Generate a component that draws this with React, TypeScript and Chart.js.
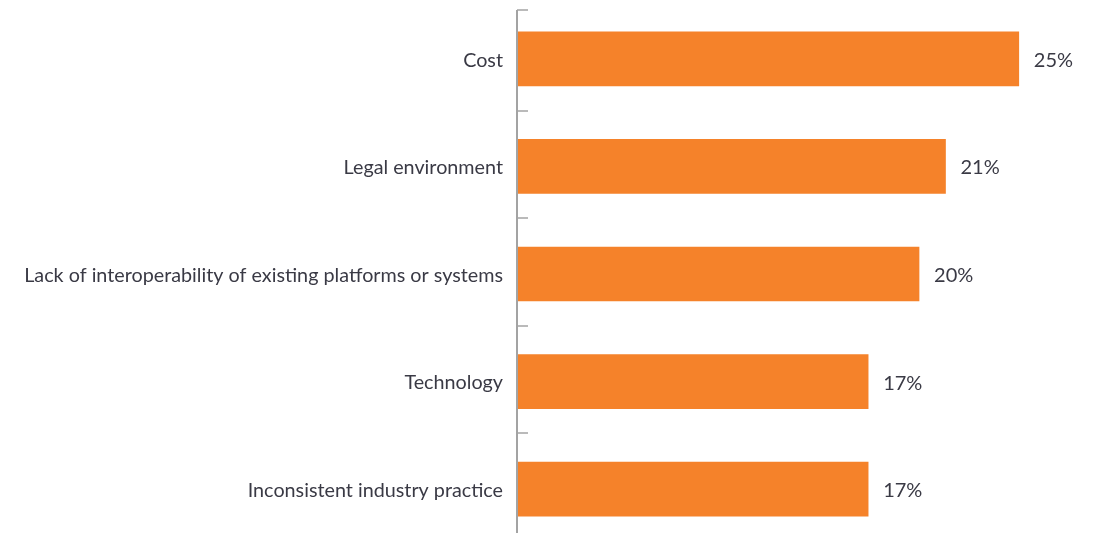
import React, { useEffect, useRef } from "react";
import { Chart, registerables } from "chart.js";

Chart.register(...registerables);

const categories = [
  "Cost",
  "Legal environment",
  "Lack of interoperability of existing platforms or systems",
  "Technology",
  "Inconsistent industry practice",
];
const values = [24.6, 21.0, 19.7, 17.2, 17.2];
const valueLabels = ["25%", "21%", "20%", "17%", "17%"];

const BAR_COLOR = "#F5822A";
const TEXT_COLOR = "#3a3a45";
const AXIS_COLOR = "#a3a3a3";
const CAT_FONT = "19.75px Lato";
const VAL_FONT = "20px Lato";

const annotate = {
  id: "annotate",
  afterDatasetsDraw(chart: any) {
    const { ctx, chartArea } = chart;
    const yScale = chart.scales.y;
    const meta = chart.getDatasetMeta(0);
    ctx.save();
    const ax = chartArea.left;
    ctx.strokeStyle = AXIS_COLOR;
    ctx.lineWidth = 2;
    ctx.beginPath();
    ctx.moveTo(ax - 1, 10);
    ctx.lineTo(ax - 1, chart.height);
    ctx.stroke();
    const tickYs: number[] = [10];
    for (let i = 0; i < categories.length - 1; i++) {
      const a = yScale.getPixelForValue(i);
      const b = yScale.getPixelForValue(i + 1);
      tickYs.push(Math.round((a + b) / 2 - 2));
    }
    ctx.lineWidth = 1.5;
    tickYs.forEach((ty) => {
      ctx.beginPath();
      ctx.moveTo(ax - 1, ty);
      ctx.lineTo(ax + 10, ty);
      ctx.stroke();
    });
    ctx.fillStyle = TEXT_COLOR;
    ctx.textBaseline = "middle";
    meta.data.forEach((bar: any, i: number) => {
      const cy = bar.y + 1.5;
      ctx.font = CAT_FONT;
      ctx.textAlign = "right";
      ctx.fillText(categories[i], ax - 15, cy);
      ctx.font = VAL_FONT;
      ctx.textAlign = "left";
      ctx.fillText(valueLabels[i], bar.x + 15, cy);
    });
    ctx.restore();
  },
};

export default function App() {
  const ref = useRef<HTMLCanvasElement>(null);
  useEffect(() => {
    if (!ref.current) return;
    const chart = new Chart(ref.current, {
      type: "bar",
      data: {
        labels: categories,
        datasets: [
          {
            data: values,
            backgroundColor: BAR_COLOR,
            borderWidth: 0,
            barThickness: 54,
          },
        ],
      },
      options: {
        indexAxis: "y",
        responsive: false,
        animation: false,
        devicePixelRatio: 1,
        layout: { padding: { left: 518, right: 7, top: 5, bottom: 5 } },
        plugins: { legend: { display: false }, tooltip: { enabled: false } },
        scales: {
          x: { display: false, min: 0, max: 28 },
          y: { display: false },
        },
      },
      plugins: [annotate],
    });
    return () => chart.destroy();
  }, []);
  return (
    <div style={{ position: "fixed", left: 0, top: 0, width: 1095, height: 548, background: "#fff" }}>
      <canvas ref={ref} width={1095} height={548} />
    </div>
  );
}
